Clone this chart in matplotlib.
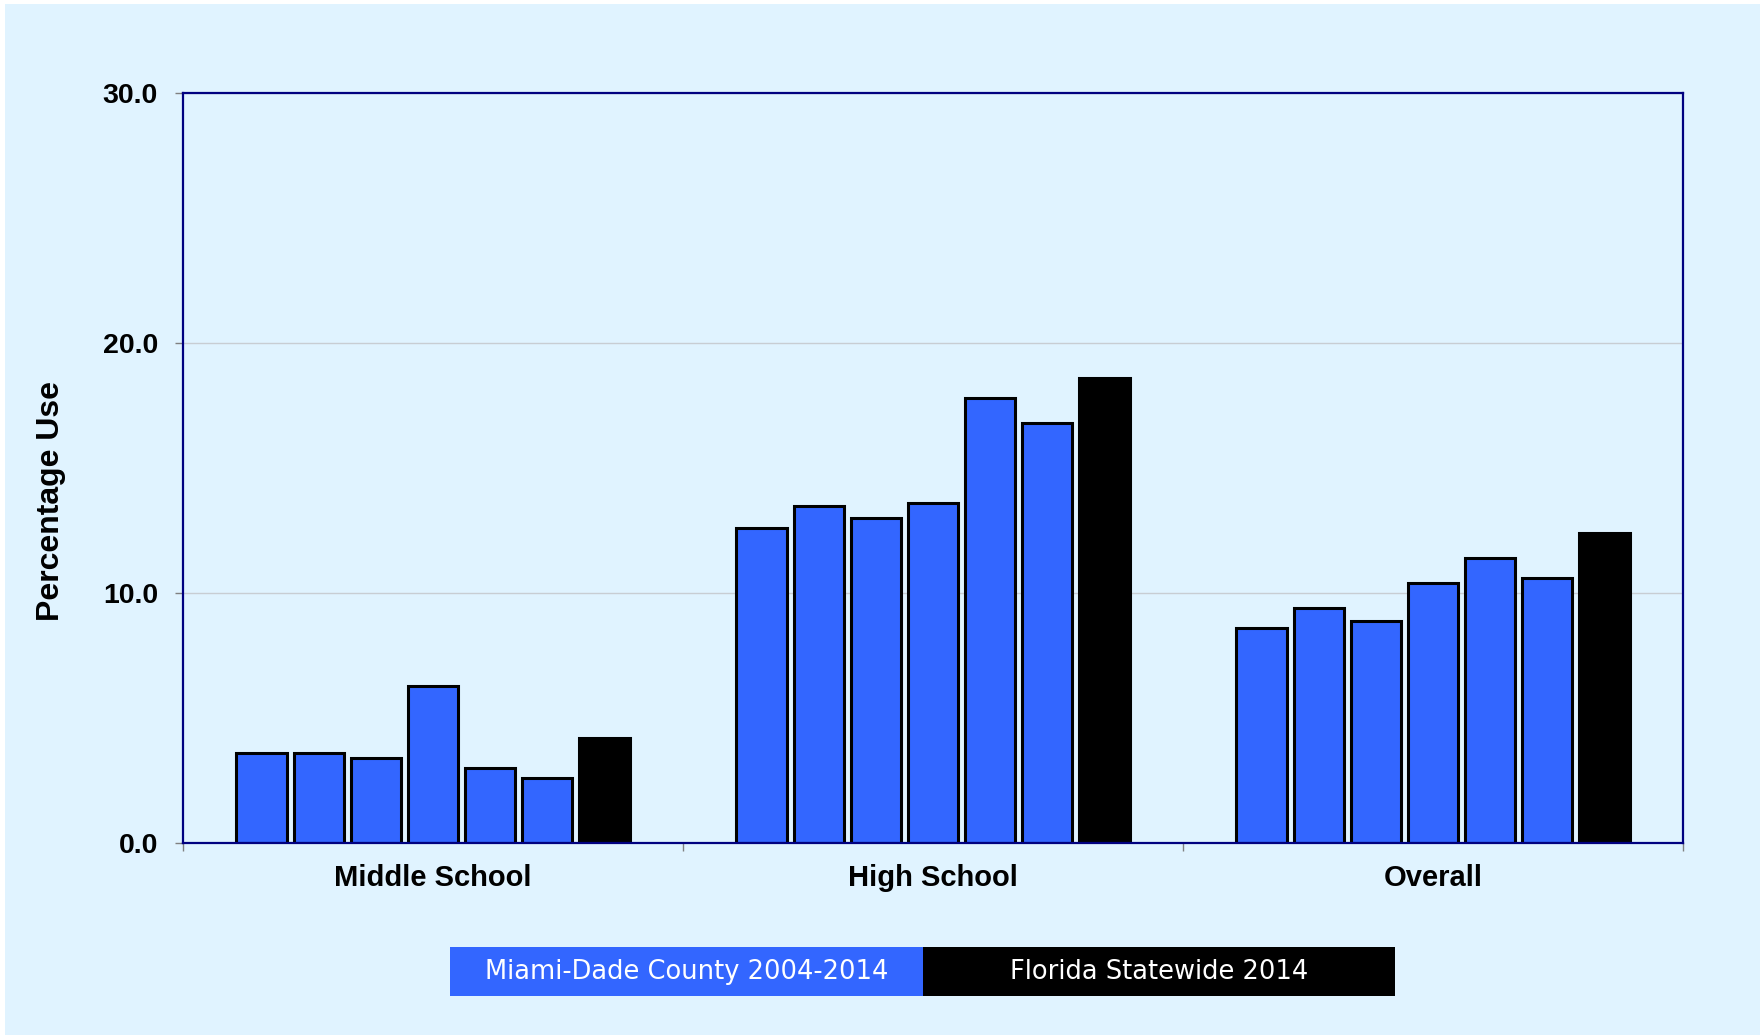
import matplotlib
matplotlib.use("Agg")
import matplotlib.pyplot as plt
from matplotlib.patches import Rectangle

# values
groups = ["Middle School", "High School", "Overall"]
years = ["2004", "2006", "2008", "2010", "2012", "2014"]
miami_dade = {
    "Middle School": [3.6, 3.6, 3.4, 6.3, 3.0, 2.6],
    "High School": [12.6, 13.5, 13.0, 13.6, 17.8, 16.8],
    "Overall": [8.6, 9.4, 8.9, 10.4, 11.4, 10.6],
}
florida_2014 = [4.2, 18.6, 12.4]
legend_labels = ["Miami-Dade County 2004-2014", "Florida Statewide 2014"]
y_ticks = [0, 10, 20, 30]

BG = "#E0F3FF"
BLUE = "#3366FF"
NAVY = "#000080"


def main():
    plt.rcParams["font.family"] = ["Liberation Sans", "DejaVu Sans"]

    fig = plt.figure(figsize=(17.6, 10.35), dpi=100, facecolor="white")
    fig.patches.append(Rectangle((5 / 1760, 0), 1, 1031 / 1035, transform=fig.transFigure,
                                 facecolor=BG, edgecolor="none", zorder=-10))

    ax = fig.add_axes([183 / 1760, 1 - 843 / 1035, 1500 / 1760, 750 / 1035])
    ax.set_facecolor(BG)

    n = len(years) + 1
    slot = 0.8 / n
    width = slot * 0.88
    for gi, g in enumerate(groups):
        vals = miami_dade[g] + [florida_2014[gi]]
        for j, v in enumerate(vals):
            x = gi - 0.4 + (j + 0.5) * slot
            color = BLUE if j < len(years) else "black"
            ax.bar(x, v, width=width, color=color, edgecolor="black", linewidth=2.2, zorder=3)

    ax.set_xlim(-0.5, 2.5)
    ax.set_ylim(0, 30)
    ax.set_yticks(y_ticks)
    ax.set_yticklabels([f"{t:.1f}" for t in y_ticks], fontsize=20.5, fontweight="bold")
    ax.yaxis.grid(True, color="#C8CDD3", linewidth=1, zorder=0)
    ax.set_axisbelow(True)

    ax.set_xticks([-0.5, 0.5, 1.5, 2.5])
    ax.set_xticklabels([])
    ax.set_xticks([0, 1, 2], minor=True)
    ax.set_xticklabels(groups, minor=True, fontsize=21, fontweight="bold")
    ax.tick_params(axis="x", which="major", direction="out", length=6, width=1, color="#808080")
    ax.tick_params(axis="x", which="minor", length=0, pad=15)
    ax.tick_params(axis="y", direction="out", length=6, width=1, color="#808080", pad=12)

    for s in ax.spines.values():
        s.set_color(NAVY)
        s.set_linewidth(1.6)
        s.set_zorder(4)

    fig.text(51 / 1760, 1 - 501 / 1035, "Percentage Use", rotation=90, fontsize=23,
             fontweight="bold", ha="center", va="center")

    # legend boxes below the plot
    boxes = [(450, 923, BLUE), (923, 1395, "black")]
    for (x0, x1, c), lab in zip(boxes, legend_labels):
        fig.patches.append(Rectangle((x0 / 1760, 1 - 996 / 1035), (x1 - x0) / 1760, 49 / 1035,
                                     transform=fig.transFigure, facecolor=c, edgecolor="none"))
        fig.text((x0 + x1) / 2 / 1760, 1 - 972 / 1035, lab, color="white", fontsize=18.5,
                 family=["DejaVu Sans"], fontweight="medium", ha="center", va="center")

    fig.savefig("out.png", dpi=100, facecolor=fig.get_facecolor())


if __name__ == "__main__":
    main()
